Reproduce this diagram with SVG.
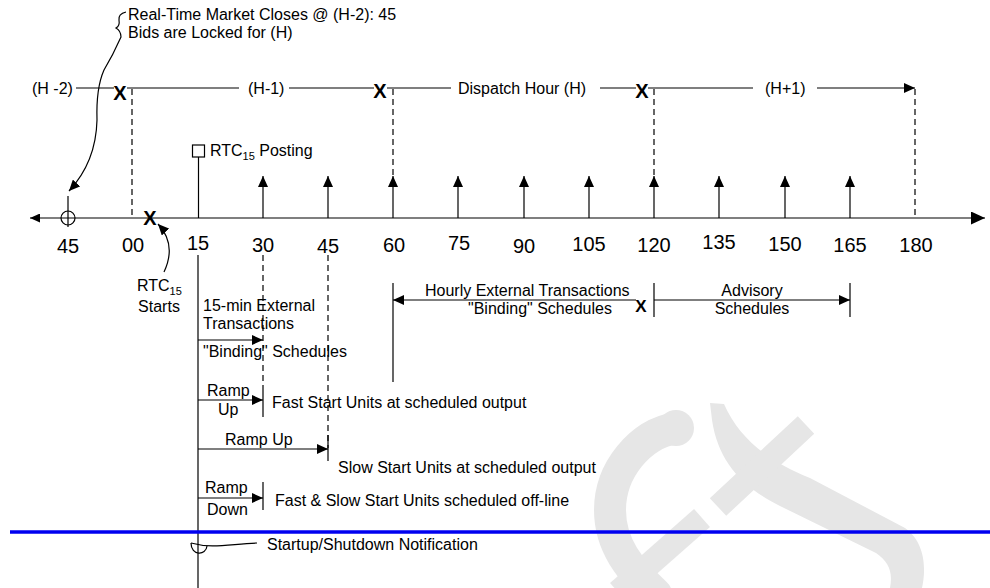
<svg xmlns="http://www.w3.org/2000/svg" width="990" height="588" viewBox="0 0 990 588">
<style>
text{font-family:"Liberation Sans",Arial,sans-serif;font-size:16px;fill:#000}
.t{font-size:20px;text-anchor:middle}
.x{font-weight:bold;font-size:20px;text-anchor:middle}
.m{text-anchor:middle}
.ln{stroke:#000;stroke-width:1.2;fill:none}
.ds{stroke:#000;stroke-width:1.2;fill:none;stroke-dasharray:6 4}
.ar{marker-end:url(#ah)}
.wm{fill:#e6e6e6;stroke:none}
.wms{stroke:#e6e6e6;fill:none}
</style>
<defs>
<marker id="ah" viewBox="0 0 10 10" refX="10" refY="5" markerWidth="11" markerHeight="10" markerUnits="userSpaceOnUse" orient="auto-start-reverse" preserveAspectRatio="none"><path d="M0,0L10,5L0,10z" fill="#000"/></marker>
<marker id="ahs" viewBox="0 0 10 10" refX="10" refY="5" markerWidth="10" markerHeight="9" markerUnits="userSpaceOnUse" orient="auto-start-reverse" preserveAspectRatio="none"><path d="M0,0L10,5L0,10z" fill="#000"/></marker>
<marker id="ahb" viewBox="0 0 10 10" refX="10" refY="5" markerWidth="14" markerHeight="13" markerUnits="userSpaceOnUse" orient="auto" preserveAspectRatio="none"><path d="M0,0L10,5L0,10z" fill="#000"/></marker>
</defs>
<rect width="990" height="588" fill="#fff"/>

<g id="watermark">
<path class="wms" stroke-width="32" stroke-linecap="round" d="M676,428 C640,434 610,470 610,510 C610,545 630,570 656,594"/>
<circle class="wm" cx="676" cy="428" r="18"/>
<path class="wm" d="M710,403 L724,404 C740,440 770,462 810,478 L905,528 C926,543 926,570 922,588 L890,588 C893,572 889,562 876,553 L780,506 C740,486 718,460 712,420 Z"/>
<path class="wms" stroke-width="24" d="M806,425 L718,507"/>
<path class="wms" stroke-width="24" d="M702,518 L618,592"/>
</g>

<g id="connectors">
<line class="ln" x1="30" y1="218" x2="985" y2="218" marker-start="url(#ahs)" marker-end="url(#ahb)"/>
<line class="ln ar" x1="263" y1="218" x2="263" y2="176"/>
<line class="ln ar" x1="328" y1="218" x2="328" y2="176"/>
<line class="ln ar" x1="393" y1="218" x2="393" y2="176"/>
<line class="ln ar" x1="458" y1="218" x2="458" y2="176"/>
<line class="ln ar" x1="524" y1="218" x2="524" y2="176"/>
<line class="ln ar" x1="589" y1="218" x2="589" y2="176"/>
<line class="ln ar" x1="654" y1="218" x2="654" y2="176"/>
<line class="ln ar" x1="719" y1="218" x2="719" y2="176"/>
<line class="ln ar" x1="785" y1="218" x2="785" y2="176"/>
<line class="ln ar" x1="850" y1="218" x2="850" y2="176"/>
<line class="ln" x1="76" y1="88" x2="114" y2="88"/>
<line class="ln" x1="127" y1="88" x2="239" y2="88"/>
<line class="ln" x1="289" y1="88" x2="374" y2="88"/>
<line class="ln" x1="387" y1="88" x2="451" y2="88"/>
<line class="ln" x1="600" y1="88" x2="636" y2="88"/>
<line class="ln" x1="648" y1="88" x2="753" y2="88"/>
<line class="ln ar" x1="817" y1="88" x2="915" y2="88"/>
<line class="ds" x1="132" y1="89" x2="132" y2="218"/>
<line class="ds" x1="393" y1="89" x2="393" y2="186"/>
<line class="ds" x1="654" y1="89" x2="654" y2="186"/>
<line class="ds" x1="915" y1="89" x2="915" y2="218"/>
<line class="ds" x1="263" y1="255" x2="263" y2="388"/>
<line class="ds" x1="328" y1="255" x2="328" y2="448"/>
<line class="ln" x1="198" y1="255" x2="198" y2="588"/>
<line class="ln" x1="393" y1="283" x2="393" y2="382"/>
<line class="ln" x1="393" y1="300" x2="636" y2="300" marker-start="url(#ah)"/>
<line class="ln" x1="654" y1="283" x2="654" y2="317"/>
<line class="ln ar" x1="654" y1="300" x2="850" y2="300"/>
<line class="ln" x1="850" y1="283" x2="850" y2="317"/>
<line class="ln ar" x1="198" y1="340" x2="263" y2="340"/>
<line class="ln ar" x1="198" y1="400" x2="263" y2="400"/>
<line class="ln" x1="263" y1="388" x2="263" y2="417"/>
<line class="ln ar" x1="198" y1="449" x2="328" y2="449"/>
<line class="ln" x1="328" y1="435" x2="328" y2="461"/>
<line class="ln ar" x1="198" y1="498" x2="263" y2="498"/>
<line class="ln" x1="263" y1="482" x2="263" y2="510"/>
<path class="ln ar" d="M126,12 Q118,14 119,20 Q120,26 116,28 Q121,31 121,37 Q113,55 104,70 Q96,88 97,120 Q96,162 69,191"/>
<path class="ln ar" d="M164,272 C172,255 171,238 158,224"/>
<path class="ln" d="M191,543 C191,556 206,556 207,546"/>
<path class="ln" d="M191,543 C212,549 230,544 257,543"/>
</g>

<g id="blue-divider"><line x1="10" y1="532" x2="990" y2="532" stroke="#0000f0" stroke-width="3.5"/></g>

<g id="hour-labels">
<text x="32" y="94">(H -2)</text>
<text x="248" y="94">(H-1)</text>
<text x="458" y="94">Dispatch Hour (H)</text>
<text x="765" y="94">(H+1)</text>
<text class="x" x="120" y="100">X</text>
<text class="x" x="380" y="98">X</text>
<text class="x" x="642" y="98">X</text>
</g>

<g id="market-close">
<text x="128" y="20">Real-Time Market Closes @ (H-2): 45</text>
<text x="128" y="38">Bids are Locked for (H)</text>
</g>

<g id="tick-45-marker">
<circle class="ln" cx="68" cy="218" r="7"/>
<line class="ln" x1="68" y1="196" x2="68" y2="227"/>
</g>

<g id="rtc-posting">
<rect class="ln" x="192.5" y="145" width="12" height="12"/>
<line class="ln" x1="198.5" y1="157" x2="198.5" y2="218"/>
<text x="210" y="156">RTC<tspan font-size="11" dy="4">15</tspan><tspan dy="-4"> Posting</tspan></text>
</g>

<g id="rtc-starts">
<text class="x" x="150" y="225">X</text>
<text x="137" y="291">RTC<tspan font-size="11" dy="4">15</tspan></text>
<text class="m" x="159" y="312">Starts</text>
</g>

<g id="ticks">
<text class="t" x="68" y="253">45</text>
<text class="t" x="133" y="252">00</text>
<text class="t" x="198" y="250">15</text>
<text class="t" x="263" y="252">30</text>
<text class="t" x="328" y="253">45</text>
<text class="t" x="394" y="252">60</text>
<text class="t" x="459" y="250">75</text>
<text class="t" x="524" y="253">90</text>
<text class="t" x="589" y="251">105</text>
<text class="t" x="654" y="252">120</text>
<text class="t" x="719" y="249">135</text>
<text class="t" x="785" y="251">150</text>
<text class="t" x="850" y="252">165</text>
<text class="t" x="916" y="252">180</text>
</g>

<g id="hourly-transactions">
<text x="425" y="296">Hourly External Transactions</text>
<text x="468" y="314">"Binding" Schedules</text>
<text class="x" x="641" y="312" style="font-size:17px">X</text>
</g>

<g id="advisory">
<text class="m" x="752" y="296">Advisory</text>
<text class="m" x="752" y="314">Schedules</text>
</g>

<g id="fifteen-min">
<text x="203" y="311">15-min External</text>
<text x="203" y="329">Transactions</text>
<text x="203" y="357">"Binding" Schedules</text>
</g>

<g id="fast-ramp-up">
<text x="207" y="396">Ramp</text>
<text x="218" y="415">Up</text>
<text x="272" y="408">Fast Start Units at scheduled output</text>
</g>

<g id="slow-ramp-up">
<text x="225" y="445">Ramp Up</text>
<text x="338" y="473">Slow Start Units at scheduled output</text>
</g>

<g id="ramp-down">
<text x="205" y="493">Ramp</text>
<text x="207" y="515">Down</text>
<text x="275" y="506">Fast &amp; Slow Start Units scheduled off-line</text>
</g>

<g id="notification">
<text x="267" y="550">Startup/Shutdown Notification</text>
</g>
</svg>
